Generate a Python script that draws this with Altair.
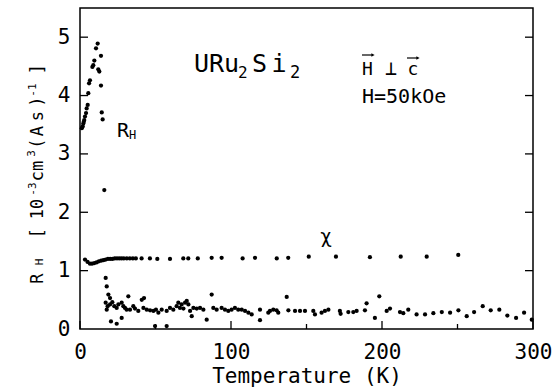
import altair as alt
import pandas as pd

# ---- data ----
T_rh = [1.2, 1.8, 2.2, 2.5, 2.8, 3.3, 4.0, 4.4, 5.1, 5.5, 6.0, 6.6, 8.2, 8.8, 9.5, 10.6, 11.7, 12.1, 12.8,
        13.9, 13.9, 14.4, 15.0, 16.1,
        17.0, 17.7, 18.8, 19.9, 17.0, 18.3, 19.9, 21.4, 22.7, 24.3, 25.4, 17.7, 20.5, 24.3,
        27.6, 28.7, 29.8, 30.9, 32.0, 33.1, 35.3, 36.4, 38.6, 40.9, 42.4, 42.0, 44.2, 46.4, 48.6, 50.3,
        51.9, 54.1, 57.4, 59.6, 61.8, 64.0, 65.1, 66.2, 67.3, 68.5, 69.6, 70.7, 71.8, 72.9, 74.0, 75.1,
        77.3, 79.5, 81.7, 83.9, 87.2, 88.3, 90.5, 27.6, 49.7, 57.4,
        93.8, 96.0, 98.2, 100.4, 102.6, 104.8, 107.1, 109.3, 111.5, 113.7, 119.2, 119.2, 124.7, 125.8,
        128.0, 130.2, 131.3, 136.9, 138.0, 142.4, 145.7, 149.0, 154.5, 155.6, 160.0, 162.2, 164.5,
        172.1, 172.6, 177.7, 181.0, 183.2, 188.7, 189.8, 195.3, 198.2, 203.1, 205.3, 211.9, 214.1, 217.4,
        222.9, 228.5, 234.0, 239.6, 245.1, 250.6, 256.1, 261.0, 266.7, 272.0, 277.7, 283.0, 288.8,
        294.1, 299.2]
R_rh = [3.44, 3.47, 3.52, 3.55, 3.58, 3.64, 3.70, 3.78, 3.84, 4.04, 4.21, 4.26, 4.49, 4.52, 4.60, 4.81, 4.89, 4.45, 4.41,
        4.68, 4.17, 3.71, 3.59, 2.38,
        0.875, 0.73, 0.59, 0.53, 0.45, 0.39, 0.42, 0.46, 0.39, 0.36, 0.42, 0.33, 0.13, 0.09,
        0.45, 0.39, 0.36, 0.33, 0.56, 0.33, 0.39, 0.35, 0.31, 0.50, 0.53, 0.36, 0.33, 0.32, 0.31, 0.33,
        0.28, 0.33, 0.31, 0.36, 0.33, 0.39, 0.45, 0.36, 0.42, 0.35, 0.45, 0.48, 0.42, 0.31, 0.22, 0.36,
        0.35, 0.36, 0.33, 0.16, 0.59, 0.36, 0.33, 0.19, 0.05, 0.05,
        0.36, 0.33, 0.31, 0.33, 0.36, 0.33, 0.33, 0.31, 0.28, 0.25, 0.33, 0.15, 0.28, 0.31,
        0.33, 0.32, 0.28, 0.55, 0.32, 0.31, 0.31, 0.31, 0.31, 0.25, 0.28, 0.31, 0.33,
        0.31, 0.26, 0.29, 0.29, 0.31, 0.32, 0.44, 0.19, 0.56, 0.31, 0.35, 0.29, 0.27, 0.33,
        0.25, 0.25, 0.27, 0.29, 0.28, 0.32, 0.22, 0.29, 0.39, 0.32, 0.33, 0.23, 0.19,
        0.28, 0.16]

T_chi = [3.3, 5.0, 6.6, 8.0, 9.5, 11.0, 12.5, 14.0, 15.5, 17.0, 18.5, 20.0, 21.5, 23.0, 24.5, 26.0, 27.5,
         29.0, 31.0, 33.0, 35.0, 37.0, 40.8, 46.3, 51.2, 59.6, 68.4, 71.7, 78.0, 87.2, 93.8, 107.7, 115.9,
         130.3, 137.9, 151.5, 169.5, 192.0, 212.4, 229.6, 250.5]
R_chi = [1.19, 1.15, 1.12, 1.12, 1.13, 1.14, 1.16, 1.17, 1.18, 1.19, 1.20, 1.20, 1.20, 1.21, 1.21, 1.21, 1.21,
         1.21, 1.21, 1.21, 1.21, 1.21, 1.21, 1.21, 1.20, 1.20, 1.21, 1.21, 1.21, 1.22, 1.22, 1.21, 1.22,
         1.21, 1.22, 1.24, 1.24, 1.23, 1.24, 1.24, 1.27]

x_major = [0, 100, 200, 300]
x_minor = [50, 150, 250]
y_major = [1, 2, 3, 4, 5]
y_labels = [0, 1, 2, 3, 4, 5]

# ---- layout ----
W, H = 453, 321
L, TOP = 80, 8
FONT = "DejaVu Sans Mono"

pts = pd.DataFrame({"T": T_rh + T_chi, "R": R_rh + R_chi})
xs = alt.Scale(domain=[0, 300], nice=False, zero=False)
ys = alt.Scale(domain=[0, 5.5], nice=False, zero=False)

x_axis = alt.Axis(
    values=x_major, ticks=False, domain=False, grid=False, labelFont=FONT, labelFontSize=21,
    labelColor="black", labelPadding=12, labelFlush=False, title="Temperature (K)",
    titleFont=FONT, titleFontSize=21, titleFontWeight="normal", titleColor="black", titlePadding=3)
y_axis = alt.Axis(
    values=y_labels, ticks=False, domain=False, grid=False, labelFont=FONT, labelFontSize=21,
    labelColor="black", labelPadding=10, labelFlush=False, title="")

X = lambda: alt.X("T:Q", scale=xs, axis=x_axis, title="Temperature (K)")
Y = lambda: alt.Y("R:Q", scale=ys, axis=y_axis, title="")

points = alt.Chart(pts).mark_circle(size=18, color="black", opacity=1).encode(x=X(), y=Y())

xmaj = alt.Chart(pd.DataFrame({"T": x_major})).mark_rule(color="black", strokeWidth=1.3).encode(
    x=X(), y=alt.value(H), y2=alt.value(H - 8))
xmin = alt.Chart(pd.DataFrame({"T": x_minor})).mark_rule(color="black", strokeWidth=1.3).encode(
    x=X(), y=alt.value(H), y2=alt.value(H - 5))
yl = alt.Chart(pd.DataFrame({"R": y_major})).mark_rule(color="black", strokeWidth=1.3).encode(
    y=Y(), x=alt.value(0), x2=alt.value(8))
yr = alt.Chart(pd.DataFrame({"R": y_major})).mark_rule(color="black", strokeWidth=1.3).encode(
    y=Y(), x=alt.value(W), x2=alt.value(W - 8))

dummy = pd.DataFrame({"a": [0]})


def label(text, sx, sy, size, angle=0, align="left", baseline="alphabetic"):
    kw = dict(font=FONT, fontSize=size, color="black", align=align, baseline=baseline)
    if angle:
        kw["angle"] = angle
    return alt.Chart(dummy).mark_text(**kw).encode(
        x=alt.value(sx - L), y=alt.value(sy - TOP), text=alt.value(text))


def arrow(sx1, sx2, sy):
    line = alt.Chart(dummy).mark_rule(color="black", strokeWidth=1.2).encode(
        x=alt.value(sx1 - L), x2=alt.value(sx2 - L), y=alt.value(sy - TOP))
    head = alt.Chart(dummy).mark_point(shape="triangle-right", size=14, filled=True,
                                       color="black", opacity=1).encode(
        x=alt.value(sx2 - L), y=alt.value(sy - TOP))
    return [line, head]


texts = [
    # y-axis title, rotated
    label("R", 43, 278.5, 17, 270, "center"),
    label("H", 43, 262, 11, 270, "center"),
    label("[", 43, 233, 17, 270, "center"),
    label("10", 43, 209, 17, 270, "center"),
    label("-3", 36, 189, 11, 270, "center"),
    label("cm", 43, 171, 17, 270, "center"),
    label("3", 35, 153.5, 11, 270, "center"),
    label("(", 43, 143.5, 17, 270, "center"),
    label("A", 43, 131, 17, 270, "center"),
    label("s", 43, 116, 17, 270, "center"),
    label(")", 43, 101.5, 17, 270, "center"),
    label("-1", 36, 90, 11, 270, "center"),
    label("]", 43, 69, 17, 270, "center"),
    # compound name
    label("URu", 194, 72, 25),
    label("2", 238, 78, 16),
    label("S", 252, 72, 25),
    label("i", 279, 72, 25, 0, "center"),
    label("2", 290, 78, 17),
    # field orientation
    label("H", 362, 75, 18),
    label("\u22a5", 391, 75, 20, 0, "center"),
    label("c", 413, 75, 18, 0, "center"),
    label("H=50kOe", 362, 103, 20),
    # series labels
    label("R", 117, 137, 20),
    label("H", 129, 139, 12),
    label("\u03c7", 326, 243, 20, 0, "center"),
] + arrow(362, 373, 55) + arrow(407, 418, 58)

chart = alt.layer(points, xmaj, xmin, yl, yr, *texts).properties(
    width=W, height=H, autosize=alt.AutoSizeParams(type="none"),
    padding={"left": L, "top": TOP, "right": 552 - L - W, "bottom": 392 - TOP - H},
    background="white",
).configure_view(stroke="black", strokeWidth=1.5)

chart.save("out.html", embed_options={"renderer": "svg", "actions": False})
